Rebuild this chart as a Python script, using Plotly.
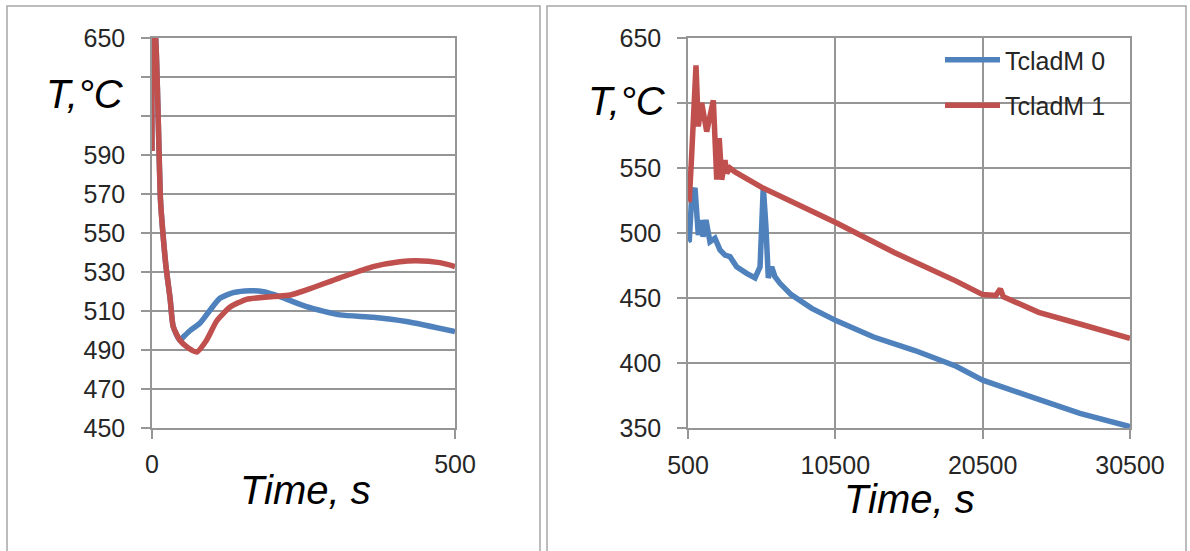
import plotly.graph_objects as go

W, H = 1190, 551

# ---------------- data: left panel (0..500 s) ----------------
t_left_1 = [0, 1, 6, 14, 18, 23, 30, 35, 46, 60, 74, 90, 107, 129, 156, 200, 228, 255, 310, 365, 409, 436, 475, 500]
T_left_1 = [592, 662, 650, 567, 550, 533, 516, 502, 495, 491, 489, 495, 505, 512, 516, 517.4, 518.2, 520.8, 527, 532.8, 535.3, 535.8, 534.8, 532.8]

t_left_0 = [0, 1, 6, 14, 18, 23, 30, 35, 46, 52, 63, 79, 96, 112, 134, 162, 184, 211, 255, 310, 365, 420, 500]
T_left_0 = [592, 662, 650, 567, 550, 533, 516, 502, 495, 496.8, 500, 503.7, 510.5, 516.5, 519.4, 520.4, 519.9, 517.4, 512.2, 508, 506.8, 504.6, 499.4]

# ---------------- data: right panel (500..30500 s) ----------------
t_right_0 = [500, 590, 750, 975, 1200, 1430, 1520, 1720, 1990, 2330, 2670, 3010, 3350, 3800, 4480, 5050,
             5390, 5610, 5790, 5950, 6180, 6400, 6740, 7500, 8900, 10580, 13100, 15900, 18700, 20500,
             24300, 27100, 30500]
T_right_0 = [494, 494.6, 528, 534.6, 498.5, 510, 497, 510, 493.3, 496, 487, 483, 481.8, 474, 469, 465.4,
             474, 535.6, 504.8, 465.4, 474, 466.4, 461.3, 452.6, 442, 432.4, 420, 409.6, 397.5, 386.8,
             372, 361.3, 351]

t_right_1 = [500, 590, 750, 1043, 1200, 1430, 1770, 2220, 2450, 2620, 2790, 3010, 3130, 3350, 3690, 5590,
             10590, 14500, 18700, 20500, 21400, 21700, 21900, 24300, 27100, 30500]
T_right_1 = [525, 525.4, 560, 629, 582, 600, 578, 602, 541, 573, 541, 556, 546, 550, 547, 534.6,
             507.7, 485, 463, 452.6, 452, 457, 451, 439, 430, 419]

series_names = ["TcladM 0", "TcladM 1"]
colors = ["#4F81BD", "#C0504D"]

left_ticks_y = [450, 470, 490, 510, 530, 550, 570, 590, 610, 630, 650]
left_ticktext_y = ["450", "470", "490", "510", "530", "550", "570", "590", "", "", "650"]
left_ticks_x = [0, 500]
left_ticktext_x = ["0", "500"]
right_ticks_y = [350, 400, 450, 500, 550, 600, 650]
right_ticktext_y = ["350", "400", "450", "500", "550", "", "650"]
right_ticks_x = [500, 10500, 20500, 30500]
right_ticktext_x = ["500", "10500", "20500", "30500"]

# ---------------- figure ----------------
fig = go.Figure()

LW = 5.5
fig.add_trace(go.Scatter(x=t_left_0, y=T_left_0, mode="lines", line=dict(color=colors[0], width=LW, shape="spline", smoothing=0.6),
                         xaxis="x", yaxis="y", showlegend=False, hoverinfo="skip"))
fig.add_trace(go.Scatter(x=t_left_1, y=T_left_1, mode="lines", line=dict(color=colors[1], width=LW, shape="spline", smoothing=0.6),
                         xaxis="x", yaxis="y", showlegend=False, hoverinfo="skip"))
fig.add_trace(go.Scatter(x=t_right_0, y=T_right_0, mode="lines", name=series_names[0], legendgroup="a",
                         line=dict(color=colors[0], width=LW), xaxis="x2", yaxis="y2"))
fig.add_trace(go.Scatter(x=t_right_1, y=T_right_1, mode="lines", name=series_names[1], legendgroup="b",
                         line=dict(color=colors[1], width=LW), xaxis="x2", yaxis="y2"))

grid = "#969696"
tickfont = dict(family="Liberation Sans, Arial", size=25, color="#262626")

def px_x(p):
    return p / W

def px_y(p):
    return 1 - p / H

common_axis = dict(showgrid=True, gridcolor=grid, gridwidth=1.5, showline=True, linecolor=grid, linewidth=1.5,
                   mirror=True, ticks="outside", ticklen=9, tickcolor=grid, tickwidth=1.5, zeroline=False,
                   tickfont=tickfont, fixedrange=True, automargin=False)

fig.update_layout(
    width=W, height=H,
    margin=dict(l=0, r=0, t=0, b=0, autoexpand=False),
    paper_bgcolor="white", plot_bgcolor="white",
    xaxis=dict(domain=[px_x(152), px_x(455)], range=[0, 500], tickvals=left_ticks_x, ticktext=left_ticktext_x,
               anchor="y", ticklabelstandoff=4, **common_axis),
    yaxis=dict(domain=[px_y(428), px_y(38)], range=[450, 650], tickvals=left_ticks_y, ticktext=left_ticktext_y,
               anchor="x", ticklabelstandoff=11, **common_axis),
    xaxis2=dict(domain=[px_x(688), px_x(1130)], range=[500, 30500], tickvals=right_ticks_x, ticktext=right_ticktext_x,
                anchor="y2", ticklabelstandoff=5, **common_axis),
    yaxis2=dict(domain=[px_y(428), px_y(38)], range=[350, 650], tickvals=right_ticks_y, ticktext=right_ticktext_y,
                anchor="x2", ticklabelstandoff=11, **common_axis),
    legend=dict(x=px_x(940), y=px_y(37), xanchor="left", yanchor="top", bgcolor="rgba(0,0,0,0)",
                font=dict(family="Liberation Sans, Arial", size=25, color="#262626"),
                itemwidth=55, tracegroupgap=10, traceorder="grouped"),
    showlegend=True,
)

title_font = dict(family="Liberation Sans, Arial", size=40, color="black")
annos = [
    (85, 94, "<i>T,°C</i>"),
    (305, 490, "<i>Time, s</i>"),
    (627, 101, "<i>T,°C</i>"),
    (910, 499, "<i>Time, s</i>"),
]
for x, y, txt in annos:
    fig.add_annotation(x=px_x(x), y=px_y(y), xref="paper", yref="paper", text=txt, showarrow=False,
                       font=title_font, xanchor="center", yanchor="middle")

frame = "#a6a6a6"
fig.add_shape(type="rect", xref="paper", yref="paper", x0=px_x(7), x1=px_x(540), y0=-0.05, y1=px_y(6),
              line=dict(color=frame, width=1.5), layer="below")
fig.add_shape(type="rect", xref="paper", yref="paper", x0=px_x(547), x1=px_x(1186), y0=-0.05, y1=px_y(6),
              line=dict(color=frame, width=1.5), layer="below")

# remove the default page margin so the figure sits at the window's top-left corner
fig.write_html("out.html", config={"displayModeBar": False},
               post_script="document.body.style.margin='0';document.body.style.overflow='hidden';")
